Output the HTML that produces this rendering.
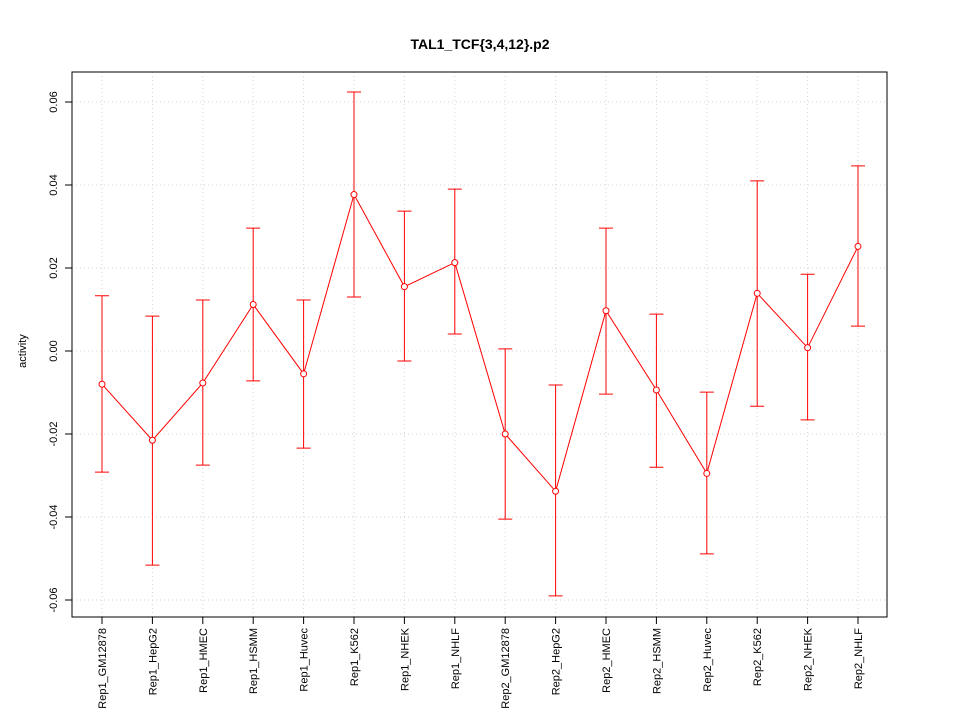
<!DOCTYPE html>
<html><head><meta charset="utf-8"><style>
body{margin:0;background:#fff;}
svg{display:block;font-family:"Liberation Sans",sans-serif;}
</style></head><body>
<svg id="chart" width="960" height="720">
<text x="480" y="49" text-anchor="middle" font-size="14" font-weight="bold">TAL1_TCF{3,4,12}.p2</text>
<text transform="translate(26,351) rotate(-90)" text-anchor="middle" font-size="11">activity</text>
<g id="grid"></g><g id="axes"></g><g id="marks"></g>
<rect x="72" y="72" width="815" height="545" fill="none" stroke="#000"/>
</svg>
<script>
const categories=["Rep1_GM12878","Rep1_HepG2","Rep1_HMEC","Rep1_HSMM","Rep1_Huvec","Rep1_K562","Rep1_NHEK","Rep1_NHLF","Rep2_GM12878","Rep2_HepG2","Rep2_HMEC","Rep2_HSMM","Rep2_Huvec","Rep2_K562","Rep2_NHEK","Rep2_NHLF"];
const values=[-0.008,-0.0215,-0.0077,0.0112,-0.0055,0.0377,0.0155,0.0213,-0.020,-0.0338,0.0097,-0.0094,-0.0295,0.0139,0.0008,0.0252];
const lower=[-0.0292,-0.0516,-0.0275,-0.0072,-0.0234,0.013,-0.0024,0.0041,-0.0405,-0.059,-0.0104,-0.028,-0.0489,-0.0133,-0.0166,0.006];
const upper=[0.0133,0.0084,0.0123,0.0296,0.0123,0.0624,0.0337,0.039,0.0005,-0.0082,0.0296,0.0089,-0.0099,0.041,0.0185,0.0446];
const yTicks=[-0.06,-0.04,-0.02,0.00,0.02,0.04,0.06];
const yTickLabels=["-0.06","-0.04","-0.02","0.00","0.02","0.04","0.06"];
const NS="http://www.w3.org/2000/svg";
const xs=i=>102+i*(858-102)/(categories.length-1);
const ys=v=>351-v*4150;
function mk(p,t,a){const e=document.createElementNS(NS,t);for(const k in a)e.setAttribute(k,a[k]);p.appendChild(e);return e;}
const grid=document.getElementById('grid'),axes=document.getElementById('axes'),marks=document.getElementById('marks');
categories.forEach((c,i)=>{
 const g=mk(grid,'line',{x1:xs(i),x2:xs(i),y1:72,y2:617,stroke:'#d3d3d3','stroke-dasharray':'1,3'});
 
 
 const t=mk(axes,'line',{x1:xs(i),x2:xs(i),y1:617,y2:624,stroke:'#000'});
 
 
 const l=mk(axes,'text',{transform:`translate(${xs(i)+4},628) rotate(-90)`,'text-anchor':'end','font-size':'11'});
 l.textContent=c;
 
 
});
yTicks.forEach((v,i)=>{
 const g=mk(grid,'line',{x1:72,x2:887,y1:ys(v),y2:ys(v),stroke:'#d3d3d3','stroke-dasharray':'1,3'});
 
 
 const t=mk(axes,'line',{x1:65,x2:72,y1:ys(v),y2:ys(v),stroke:'#000'});
 
 
 const l=mk(axes,'text',{transform:`translate(57,${ys(v)}) rotate(-90)`,'text-anchor':'middle','font-size':'11'});
 l.textContent=yTickLabels[i];
 
 
});
const pl=mk(marks,'polyline',{points:values.map((v,i)=>xs(i)+','+ys(v)).join(' '),fill:'none',stroke:'#f00'});


values.forEach((v,i)=>{
 const x=xs(i);
 const e=mk(marks,'path',{d:`M${x},${ys(lower[i])}V${ys(upper[i])}M${x-7},${ys(lower[i])}H${x+7}M${x-7},${ys(upper[i])}H${x+7}`,stroke:'#f00',fill:'none'});
 
 
 const c=mk(marks,'circle',{cx:x,cy:ys(v),r:3,fill:'#fff',stroke:'#f00'});
 
 
});
</script>
</body></html>
